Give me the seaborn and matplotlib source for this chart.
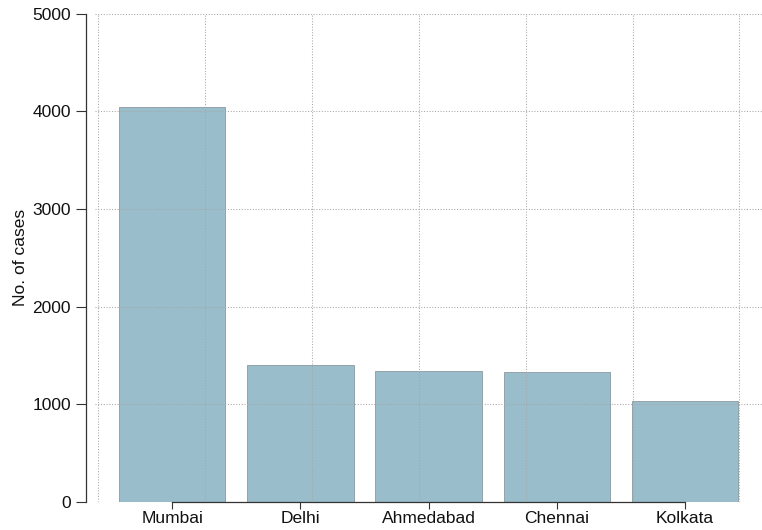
import numpy as np
import pandas as pd
import seaborn as sns
import matplotlib.pyplot as plt

# data
cities = ['Mumbai', 'Delhi', 'Ahmedabad', 'Chennai', 'Kolkata']
cases = [4045, 1405, 1340, 1330, 1035]

df = pd.DataFrame({'city': cities, 'cases': cases})

sns.set_style('ticks')
plt.rcParams['font.family'] = ['Liberation Sans', 'DejaVu Sans']

fig = plt.figure(figsize=(7.62, 5.30), dpi=100)
ax = fig.add_axes([0.125, 0.053, 0.875, 0.921])

sns.barplot(data=df, x='city', y='cases', color='#99bdcb', saturation=1,
            width=0.83, edgecolor='#8a9a9f', linewidth=0.6, ax=ax)

ax.set_xlim(-0.6, 4.6)
ax.set_ylim(0, 5000)
ax.set_yticks(np.arange(0, 5001, 1000))

# vertical grid sits on its own evenly spaced minor ticks
ax.set_xticks(np.arange(-0.576, 4.6, 0.8333), minor=True)
ax.tick_params(axis='x', which='minor', length=0)
ax.grid(True, which='major', axis='y', linestyle=':', color='#a8a8a8', linewidth=0.75)
ax.grid(True, which='minor', axis='x', linestyle=':', color='#a8a8a8', linewidth=0.75)
ax.set_axisbelow(False)

ax.set_xlabel('')
ax.set_ylabel('No. of cases', fontsize=12.5, color='#111111', labelpad=3)
ax.tick_params(axis='both', which='major', labelsize=12.5, length=7, width=0.8,
               color='#333333', labelcolor='#111111')
ax.tick_params(axis='x', which='major', length=5, pad=1.5)

sns.despine(ax=ax)
ax.spines['left'].set_position(('outward', 7))
ax.spines['left'].set_bounds(0, 5000)
ax.spines['bottom'].set_bounds(0, 4)
for s in ('left', 'bottom'):
    ax.spines[s].set_color('#333333')
    ax.spines[s].set_linewidth(0.9)

fig.savefig('out.png', dpi=100)
